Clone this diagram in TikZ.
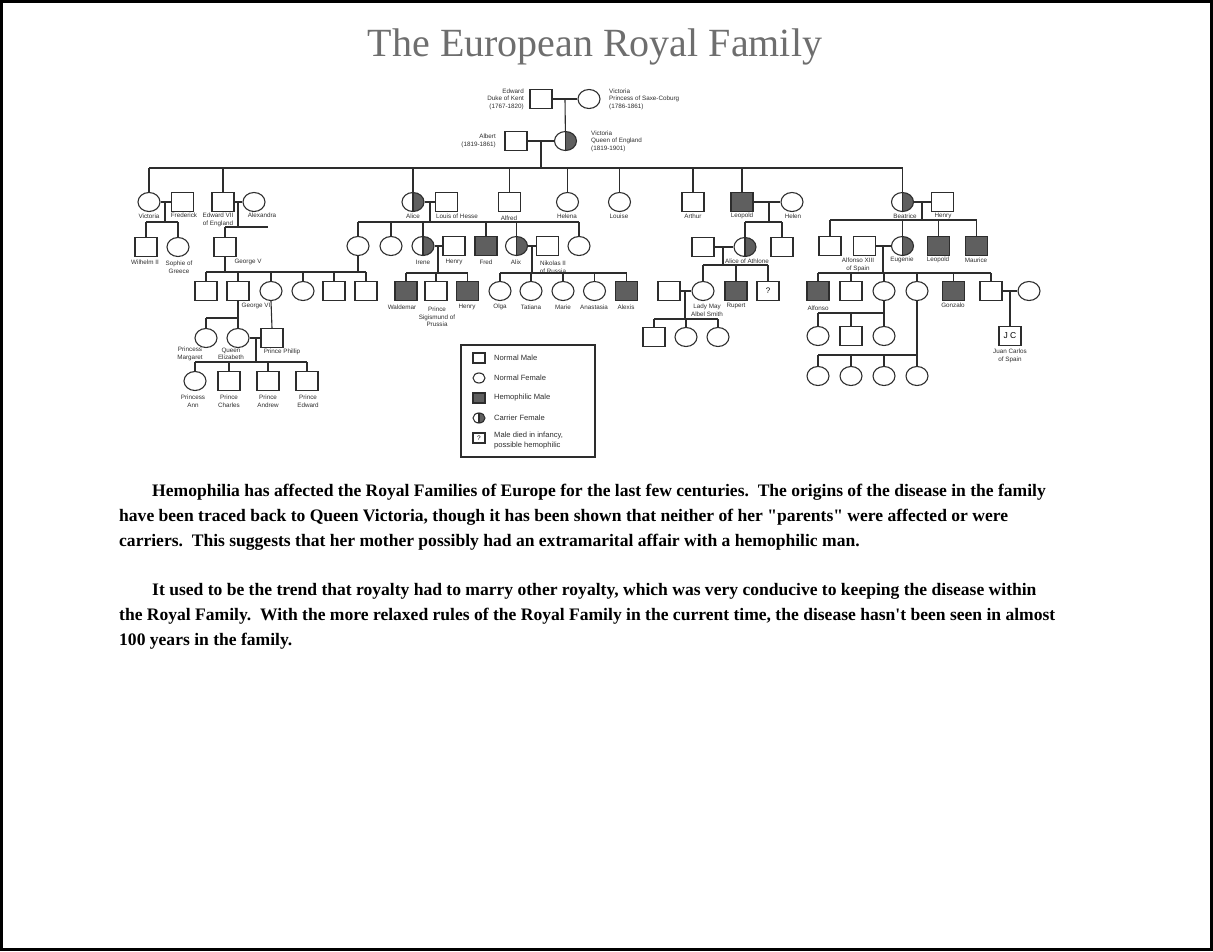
\documentclass[tikz,border=0pt]{standalone}
\usepackage{fontspec}
\setmainfont{Liberation Serif}
\newfontfamily\parafont{Liberation Serif}
\newfontfamily\lblfont{Liberation Sans}
\usetikzlibrary{shapes.geometric}
\definecolor{ink}{RGB}{45,45,45}
\definecolor{hemo}{RGB}{95,95,95}
\definecolor{titlegray}{RGB}{110,110,110}
\tikzset{
 person/.style={draw=ink, line width=1.1pt, inner sep=0pt, minimum width=22pt, minimum height=19pt},
 male/.style={person, rectangle},
 female/.style={person, ellipse},
 hemom/.style={male, fill=hemo},
 carrier/.style={female, path picture={\fill[hemo] (path picture bounding box.north) rectangle (path picture bounding box.south east); \draw[ink, line width=1.1pt] (path picture bounding box.north) -- (path picture bounding box.south);}},
 lbl/.style={font=\lblfont\fontsize{6.3}{7.6}\selectfont, inner sep=0pt, align=center, text=ink},
 leglbl/.style={font=\lblfont\fontsize{7.6}{10}\selectfont, inner sep=0pt, align=left, text=ink, anchor=west},
 link/.style={draw=ink, line width=1.1pt},
 para/.style={font=\parafont\bfseries\fontsize{17.55}{20}\selectfont, inner sep=0pt, anchor=west, text=black},
 lsym/.style={draw=ink, line width=1.1pt, inner sep=0pt, minimum width=12pt, minimum height=10pt},
}
\begin{document}
\begin{tikzpicture}[x=1pt,y=-1pt]
\useasboundingbox (0,0) rectangle (1213,951);
\draw[line width=3pt] (1.5,1.5) rectangle (1211.5,949.5);
\node[font=\fontsize{40}{45}\selectfont, text=titlegray, inner sep=0pt] (title) at (595,47) {The European Royal Family};

% generation 0
\node[male] (edward) at (541,99) {};
\node[female] (vps) at (589,99) {};
\node[lbl, anchor=east, align=right] (l-edward) at (524,99) {Edward\\Duke of Kent\\(1767-1820)};
\node[lbl, anchor=west, align=left] (l-vps) at (609,99) {Victoria\\Princess of Saxe-Coburg\\(1786-1861)};
\draw[link] (edward) -- (vps);
\coordinate (m0) at (565,99);

% generation 1
\node[male] (albert) at (516,141) {};
\node[carrier] (qv) at (565.5,141) {};
\node[lbl, anchor=east, align=right] (l-albert) at (496,141) {Albert\\(1819-1861)};
\node[lbl, anchor=west, align=left] (l-qv) at (591,141) {Victoria\\Queen of England\\(1819-1901)};
\draw[link] (m0) -- (qv);
\draw[link] (albert) -- (qv);
\coordinate (m1) at (541,141);
\coordinate (b0) at (0,168);

% generation 2
\node[female] (victoria) at (149,202) {};
\node[male] (frederick) at (182.5,202) {};
\node[male] (edward7) at (223,202) {};
\node[female] (alexandra) at (254,202) {};
\node[carrier] (alice) at (413,202) {};
\node[male] (louish) at (446.5,202) {};
\node[male] (alfred) at (509.5,202) {};
\node[female] (helena) at (567.5,202) {};
\node[female] (louise) at (619.5,202) {};
\node[male] (arthur) at (693,202) {};
\node[hemom] (leopold) at (742,202) {};
\node[female] (helen) at (792,202) {};
\node[carrier] (beatrice) at (902.5,202) {};
\node[male] (henryb) at (942.5,202) {};
\draw[link] (m1) -- (m1 |- b0);
\draw[link] (victoria.north |- b0) -- (beatrice.north |- b0);
\foreach \c in {victoria,edward7,alice,alfred,helena,louise,arthur,leopold,beatrice}
  \draw[link] (\c.north) -- (\c.north |- b0);
\node[lbl] (l-victoria) at (149,216) {Victoria};
\node[lbl] (l-frederick) at (184,215) {Frederick};
\node[lbl] (l-edward7) at (218,220) {Edward VII\\of England};
\node[lbl] (l-alexandra) at (262,215) {Alexandra};
\node[lbl] (l-alice) at (413,216) {Alice};
\node[lbl] (l-louish) at (457,216) {Louis of Hesse};
\node[lbl] (l-alfred) at (509,218) {Alfred};
\node[lbl] (l-helena) at (567,216) {Helena};
\node[lbl] (l-louise) at (619,216) {Louise};
\node[lbl] (l-arthur) at (693,216) {Arthur};
\node[lbl] (l-leopold) at (742,216) {Leopold};
\node[lbl] (l-helen) at (793,216) {Helen};
\node[lbl] (l-beatrice) at (905,216) {Beatrice};
\node[lbl] (l-henryb) at (943,216) {Henry};

% Victoria + Frederick
\draw[link] (victoria) -- (frederick);
\coordinate (mvf) at (165,202);
\coordinate (bvf) at (0,222);
\node[male] (wilhelm) at (146,247) {};
\node[female] (sophie) at (178,247) {};
\draw[link] (mvf) -- (mvf |- bvf);
\draw[link] (wilhelm.north |- bvf) -- (sophie.north |- bvf);
\foreach \c in {wilhelm,sophie} \draw[link] (\c.north) -- (\c.north |- bvf);
\node[lbl] (l-wilhelm) at (145,262) {Wilhelm II};
\node[lbl] (l-sophie) at (179,267) {Sophie of\\Greece};

% Edward VII + Alexandra
\draw[link] (edward7) -- (alexandra);
\coordinate (mea) at (238,202);
\coordinate (bea) at (0,227);
\coordinate (bea-end) at (268,227);
\node[male] (george5) at (225,247) {};
\draw[link] (mea) -- (mea |- bea);
\draw[link] (george5.north |- bea) -- (bea-end);
\draw[link] (george5.north) -- (george5.north |- bea);
\node[lbl] (l-george5) at (248,262) {George V};

% Alice + Louis of Hesse
\draw[link] (alice) -- (louish);
\coordinate (mal) at (430,202);
\coordinate (bal) at (0,222);
\node[female] (victh) at (358,246) {};
\node[female] (ella) at (391,246) {};
\node[carrier] (irene) at (423,246) {};
\node[male] (henryi) at (454,246) {};
\node[hemom] (fred) at (486,246) {};
\node[carrier] (alix) at (516.5,246) {};
\node[male] (nikolas) at (547.5,246) {};
\node[female] (alast) at (579,246) {};
\draw[link] (mal) -- (mal |- bal);
\draw[link] (victh.north |- bal) -- (alast.north |- bal);
\foreach \c in {victh,ella,irene,fred,alix,alast} \draw[link] (\c.north) -- (\c.north |- bal);
\node[lbl] (l-irene) at (423,262) {Irene};
\node[lbl] (l-henryi) at (454,262) {Henry};
\node[lbl] (l-fred) at (486,262) {Fred};
\node[lbl] (l-alix) at (516,262) {Alix};
\node[lbl] (l-nikolas) at (553,267) {Nikolas II\\of Russia};

% George V row (with Victoria of Hesse's children)
\coordinate (bg5) at (0,272);
\node[male] (g5a) at (206,291) {};
\node[male] (george6) at (238,291) {};
\node[female] (g5c) at (271,291) {};
\node[female] (g5d) at (303,291) {};
\node[male] (g5e) at (334,291) {};
\node[male] (g5f) at (366,291) {};
\draw[link] (george5.south) -- (george5.south |- bg5);
\draw[link] (victh.south) -- (victh.south |- bg5);
\draw[link] (g5a.north |- bg5) -- (g5f.north |- bg5);
\foreach \c in {g5a,george6,g5c,g5d,g5e,g5f} \draw[link] (\c.north) -- (\c.north |- bg5);
\node[lbl] (l-george6) at (256,306) {George VI};

% George VI
\coordinate (bg6) at (0,318);
\node[female] (margaret) at (206,338) {};
\node[female] (elizabeth) at (238,338) {};
\node[male] (philip) at (272,338) {};
\draw[link] (george6.south) -- (elizabeth.north);
\draw[link] (margaret.north |- bg6) -- (elizabeth.north |- bg6);
\draw[link] (margaret.north) -- (margaret.north |- bg6);
\draw[link] (g5c.south) -- (philip.north);
\draw[link] (elizabeth) -- (philip);
\node[lbl] (l-margaret) at (190,354) {Princess\\Margaret};
\node[lbl] (l-elizabeth) at (231,354) {Queen\\Elizabeth};
\node[lbl] (l-philip) at (282,352) {Prince Phillip};

% Elizabeth + Philip
\coordinate (mep) at (256,338);
\coordinate (bep) at (0,362);
\node[female] (ann) at (195,381) {};
\node[male] (charles) at (229,381) {};
\node[male] (andrew) at (268,381) {};
\node[male] (edwardp) at (307,381) {};
\draw[link] (mep) -- (mep |- bep);
\draw[link] (ann.north |- bep) -- (edwardp.north |- bep);
\foreach \c in {ann,charles,andrew,edwardp} \draw[link] (\c.north) -- (\c.north |- bep);
\node[lbl] (l-ann) at (193,401) {Princess\\Ann};
\node[lbl] (l-charles) at (229,401) {Prince\\Charles};
\node[lbl] (l-andrew) at (268,401) {Prince\\Andrew};
\node[lbl] (l-edwardp) at (308,401) {Prince\\Edward};

% Irene + Henry
\draw[link] (irene) -- (henryi);
\coordinate (mih) at (438,246);
\coordinate (bih) at (0,273);
\node[hemom] (waldemar) at (406,291) {};
\node[male] (sigismund) at (436,291) {};
\node[hemom] (henrys) at (467.5,291) {};
\draw[link] (mih) -- (mih |- bih);
\draw[link] (waldemar.north |- bih) -- (henrys.north |- bih);
\foreach \c in {waldemar,sigismund,henrys} \draw[link] (\c.north) -- (\c.north |- bih);
\node[lbl] (l-waldemar) at (402,307) {Waldemar};
\node[lbl] (l-sigismund) at (437,317) {Prince\\Sigismund of\\Prussia};
\node[lbl] (l-henrys) at (467,307) {Henry};

% Alix + Nikolas
\draw[link] (alix) -- (nikolas);
\coordinate (man) at (532,246);
\coordinate (ban) at (0,273);
\node[female] (olga) at (500,291) {};
\node[female] (tatiana) at (531,291) {};
\node[female] (marie) at (563,291) {};
\node[female] (anastasia) at (594.5,291) {};
\node[hemom] (alexis) at (626.5,291) {};
\draw[link] (man) -- (man |- ban);
\draw[link] (olga.north |- ban) -- (alexis.north |- ban);
\foreach \c in {olga,tatiana,marie,anastasia,alexis} \draw[link] (\c.north) -- (\c.north |- ban);
\node[lbl] (l-olga) at (500,307) {Olga};
\node[lbl] (l-tatiana) at (531,307) {Tatiana};
\node[lbl] (l-marie) at (563,307) {Marie};
\node[lbl] (l-anastasia) at (594,307) {Anastasia};
\node[lbl] (l-alexis) at (626,307) {Alexis};

% Leopold + Helen
\draw[link] (leopold) -- (helen);
\coordinate (mlh) at (769,202);
\coordinate (blh) at (0,222);
\node[male] (alexteck) at (703,247) {};
\node[carrier] (alicea) at (745,247) {};
\node[male] (charlesl) at (782,247) {};
\draw[link] (mlh) -- (mlh |- blh);
\draw[link] (alicea.north |- blh) -- (charlesl.north |- blh);
\foreach \c in {alicea,charlesl} \draw[link] (\c.north) -- (\c.north |- blh);
\node[lbl] (l-alicea) at (747,261) {Alice of Athlone};

% Alice of Athlone + husband
\draw[link] (alexteck) -- (alicea);
\coordinate (maa) at (723,247);
\coordinate (baa) at (0,265);
\node[male] (abel) at (669,291) {};
\node[female] (ladymay) at (703,291) {};
\node[hemom] (rupert) at (736,291) {};
\node[male] (qmark) at (768,291) {\lblfont\fontsize{8}{8}\selectfont ?};
\draw[link] (maa) -- (maa |- baa);
\draw[link] (ladymay.north |- baa) -- (qmark.north |- baa);
\foreach \c in {ladymay,rupert,qmark} \draw[link] (\c.north) -- (\c.north |- baa);
\node[lbl] (l-ladymay) at (707,310) {Lady May\\Albel Smith};
\node[lbl] (l-rupert) at (736,306) {Rupert};

% Lady May + Abel Smith
\draw[link] (abel) -- (ladymay);
\coordinate (mls) at (685,291);
\coordinate (bls) at (0,319);
\node[male] (ls1) at (654,337) {};
\node[female] (ls2) at (686,337) {};
\node[female] (ls3) at (718,337) {};
\draw[link] (mls) -- (mls |- bls);
\draw[link] (ls1.north |- bls) -- (ls3.north |- bls);
\foreach \c in {ls1,ls2,ls3} \draw[link] (\c.north) -- (\c.north |- bls);

% Beatrice + Henry
\draw[link] (beatrice) -- (henryb);
\coordinate (mbh) at (922,202);
\coordinate (bbh) at (0,220);
\node[male] (bh1) at (830,246) {};
\node[male] (alfonso13) at (864.5,246) {};
\node[carrier] (eugenie) at (902.5,246) {};
\node[hemom] (leopoldb) at (938.5,246) {};
\node[hemom] (maurice) at (976.5,246) {};
\draw[link] (mbh) -- (mbh |- bbh);
\draw[link] (bh1.north |- bbh) -- (maurice.north |- bbh);
\foreach \c in {bh1,eugenie,leopoldb,maurice} \draw[link] (\c.north) -- (\c.north |- bbh);
\node[lbl] (l-alfonso13) at (858,265) {Alfonso XIII\\of Spain};
\node[lbl] (l-eugenie) at (902,260) {Eugenie};
\node[lbl] (l-leopoldb) at (938,260) {Leopold};
\node[lbl] (l-maurice) at (976,260) {Maurice};

% Eugenie + Alfonso XIII
\draw[link] (alfonso13) -- (eugenie);
\coordinate (mae) at (883,246);
\coordinate (bae) at (0,273);
\node[hemom] (alfonso) at (818,291) {};
\node[male] (e2) at (851,291) {};
\node[female] (e3) at (884,291) {};
\node[female] (e4) at (917,291) {};
\node[hemom] (gonzalo) at (953.5,291) {};
\node[male] (e6) at (991,291) {};
\node[female] (e6w) at (1029,291) {};
\draw[link] (mae) -- (mae |- bae);
\draw[link] (alfonso.north |- bae) -- (e6.north |- bae);
\foreach \c in {alfonso,e2,e3,e4,gonzalo,e6} \draw[link] (\c.north) -- (\c.north |- bae);
\node[lbl] (l-alfonso) at (818,308) {Alfonso};
\node[lbl] (l-gonzalo) at (953,305) {Gonzalo};

% e6 + wife -> Juan Carlos
\draw[link] (e6) -- (e6w);
\coordinate (mjc) at (1010,291);
\node[male] (jc) at (1010,336) {\lblfont\fontsize{8.5}{8.5}\selectfont J C};
\draw[link] (mjc) -- (jc);
\node[lbl] (l-jc) at (1010,356) {Juan Carlos\\of Spain};

% e3 children
\coordinate (be3) at (0,313);
\node[female] (f1) at (818,336) {};
\node[male] (f2) at (851,336) {};
\node[female] (f3) at (884,336) {};
\draw[link] (e3.south) -- (f3.north);
\draw[link] (f1.north |- be3) -- (f3.north |- be3);
\foreach \c in {f1,f2} \draw[link] (\c.north) -- (\c.north |- be3);

% e4 children
\coordinate (be4) at (0,355);
\node[female] (g1) at (818,376) {};
\node[female] (g2) at (851,376) {};
\node[female] (g3) at (884,376) {};
\node[female] (g4) at (917,376) {};
\draw[link] (e4.south) -- (g4.north);
\draw[link] (g1.north |- be4) -- (g4.north |- be4);
\foreach \c in {g1,g2,g3} \draw[link] (\c.north) -- (\c.north |- be4);

% legend
\node[draw=ink, line width=1.1pt, minimum width=134pt, minimum height=112pt, inner sep=0pt] (legend) at (528,401) {};
\node[lsym, rectangle] (k1) at (479,358) {};
\node[lsym, ellipse] (k2) at (479,378) {};
\node[lsym, rectangle, fill=hemo] (k3) at (479,398) {};
\node[lsym, ellipse, path picture={\fill[hemo] (path picture bounding box.north) rectangle (path picture bounding box.south east); \draw[ink, line width=1.1pt] (path picture bounding box.north) -- (path picture bounding box.south);}] (k4) at (479,418) {};
\node[lsym, rectangle] (k5) at (479,438) {\lblfont\fontsize{6.5}{6.5}\selectfont ?};
\node[leglbl] (t1) at (494,358) {Normal Male};
\node[leglbl] (t2) at (494,378) {Normal Female};
\node[leglbl] (t3) at (494,398) {Hemophilic Male};
\node[leglbl] (t4) at (494,418) {Carrier Female};
\node[leglbl] (t5) at (494,441) {Male died in infancy,\\possible hemophilic};

% paragraphs
\node[para] (p1) at (152,492) {Hemophilia has affected the Royal Families of Europe for the last few centuries.\ \ The origins of the disease in the family};
\node[para] (p2) at (119,517) {have been traced back to Queen Victoria, though it has been shown that neither of her "parents" were affected or were};
\node[para] (p3) at (119,542) {carriers.\ \ This suggests that her mother possibly had an extramarital affair with a hemophilic man.};
\node[para] (p4) at (152,591) {It used to be the trend that royalty had to marry other royalty, which was very conducive to keeping the disease within};
\node[para] (p5) at (119,616) {the Royal Family.\ \ With the more relaxed rules of the Royal Family in the current time, the disease hasn't been seen in almost};
\node[para] (p6) at (119,641) {100 years in the family.};
\end{tikzpicture}
\end{document}
